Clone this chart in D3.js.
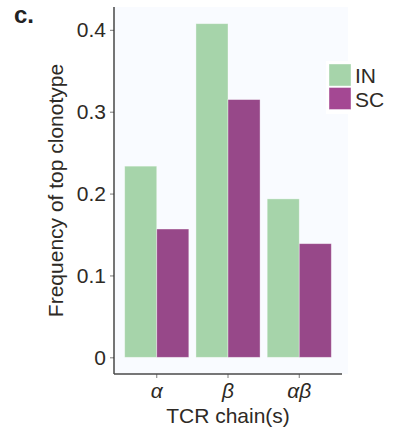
<!DOCTYPE html>
<html>
<head>
<meta charset="utf-8">
<script src="https://cdn.jsdelivr.net/npm/d3@7"></script>
<style>
  html, body { margin: 0; padding: 0; background: #ffffff; }
  svg { display: block; font-family: "Liberation Sans", Arial, sans-serif; }
</style>
</head>
<body>
<svg id="chart" width="401" height="444"></svg>
<script>
// Top clonotype frequency by TCR chain, split by tissue
const chains = ["α", "β", "αβ"];
const groups = ["IN", "SC"];
const valuesIN = [0.2335, 0.4075, 0.1935];
const valuesSC = [0.1567, 0.3148, 0.1388];
const yTicks = [0, 0.1, 0.2, 0.3, 0.4];
const yTickLabels = ["0", "0.1", "0.2", "0.3", "0.4"];
const colors = { IN: "#a6d4aa", SC: "#974889" };
const legendColors = { IN: "#a6d4aa", SC: "#a44893" };

const textColor = "#2e2a25";
const svg = d3.select("#chart");

const panel = { left: 114, right: 342, top: 7, bottom: 374 };

const rows = chains.map((c, i) => ({ chain: c, IN: valuesIN[i], SC: valuesSC[i] }));

// 5% expansion on both sides of the data range
const maxV = d3.max([...valuesIN, ...valuesSC]);
const pad = maxV * 0.05;
const y = d3.scaleLinear().domain([-pad, maxV + pad]).range([panel.bottom, panel.top]);

const x = d3.scaleBand().domain(chains).range([panel.left, panel.right])
  .paddingInner(0.1).paddingOuter(0.15);
const xSub = d3.scaleBand().domain(groups).range([0, x.bandwidth()]);

// panel background
svg.append("rect")
  .attr("x", panel.left).attr("y", panel.top)
  .attr("width", panel.right - panel.left + 6).attr("height", panel.bottom - panel.top)
  .attr("fill", "#f9fbff");

// bars
const g = svg.append("g");
rows.forEach(r => {
  groups.forEach(k => {
    g.append("rect")
      .attr("x", x(r.chain) + xSub(k))
      .attr("y", y(r[k]))
      .attr("width", xSub.bandwidth())
      .attr("height", y(0) - y(r[k]))
      .attr("fill", colors[k])
      .attr("stroke", "#ffffff")
      .attr("stroke-opacity", 0.45)
      .attr("stroke-width", 0.8);
  });
});

// y axis
const yAxis = d3.axisLeft(y).tickValues(yTicks)
  .tickFormat((d, i) => yTickLabels[i]).tickSize(4).tickPadding(4);
const ya = svg.append("g").attr("transform", `translate(${panel.left},0)`).call(yAxis);
ya.select(".domain").remove();
ya.selectAll(".tick line").attr("stroke", "#7a7a7a").attr("stroke-width", 1);
ya.selectAll(".tick text").attr("fill", textColor).attr("font-size", 21)
  .attr("font-family", "Liberation Sans, Arial, sans-serif");
svg.append("line")
  .attr("x1", panel.left).attr("x2", panel.left)
  .attr("y1", panel.top).attr("y2", panel.bottom)
  .attr("stroke", "#2b2b2b").attr("stroke-width", 1.3);

// x axis
const xAxis = d3.axisBottom(x).tickSize(4).tickPadding(5);
const xa = svg.append("g").attr("transform", `translate(0,${panel.bottom})`).call(xAxis);
xa.select(".domain").remove();
xa.selectAll(".tick line").attr("stroke", "#7a7a7a").attr("stroke-width", 1);
xa.selectAll(".tick text").attr("fill", textColor).attr("font-size", 21)
  .attr("font-style", "italic")
  .attr("font-family", "Liberation Sans, Arial, sans-serif");
svg.append("line")
  .attr("x1", panel.left).attr("x2", panel.right)
  .attr("y1", panel.bottom).attr("y2", panel.bottom)
  .attr("stroke", "#4a4a4a").attr("stroke-width", 1.6);

// axis titles
svg.append("text")
  .attr("x", (panel.left + panel.right) / 2).attr("y", 423)
  .attr("text-anchor", "middle").attr("font-size", 21).attr("fill", textColor)
  .text("TCR chain(s)");
svg.append("text")
  .attr("transform", `translate(63,${(panel.top + panel.bottom) / 2}) rotate(-90)`)
  .attr("text-anchor", "middle").attr("font-size", 21).attr("fill", textColor)
  .text("Frequency of top clonotype");

// panel label
svg.append("text")
  .attr("x", 14).attr("y", 23)
  .attr("font-size", 24).attr("font-weight", "bold").attr("fill", "#222")
  .text("c.");

// legend
const lg = svg.append("g");
lg.append("rect").attr("x", 326).attr("y", 61).attr("width", 32).attr("height", 53).attr("fill", "#ffffff");
groups.forEach((k, i) => {
  const ky = 64 + i * 23.5;
  lg.append("rect")
    .attr("x", 329).attr("y", ky).attr("width", 22).attr("height", 22)
    .attr("fill", legendColors[k])
    .attr("stroke", "#ffffff").attr("stroke-opacity", 0.5).attr("stroke-width", 0.8);
  lg.append("text")
    .attr("x", 355).attr("y", ky + 19)
    .attr("font-size", 21).attr("fill", textColor)
    .text(k);
});
</script>
</body>
</html>
